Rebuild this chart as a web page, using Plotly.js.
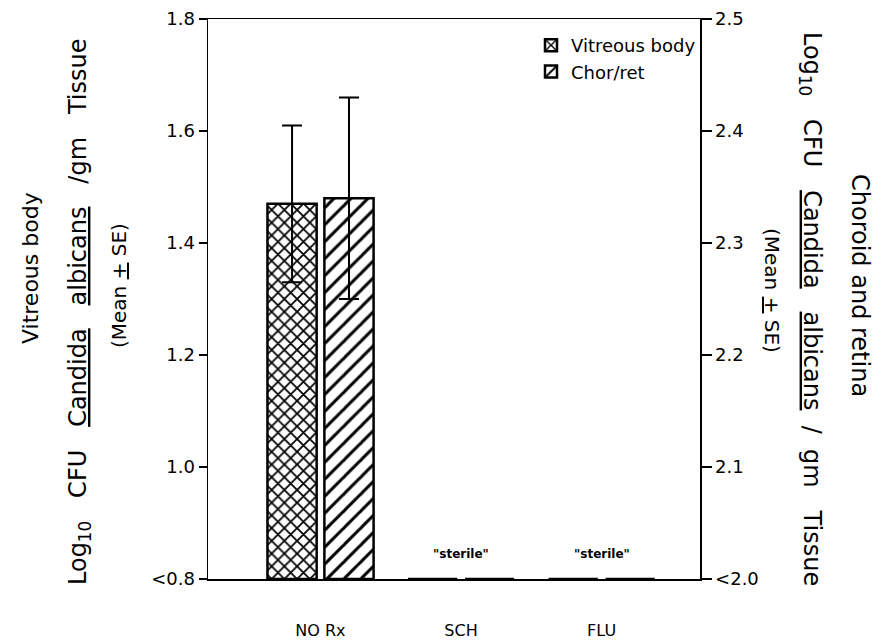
<!DOCTYPE html>
<html>
<head>
<meta charset="utf-8">
<script src="https://cdn.plot.ly/plotly-3.0.1.min.js"></script>
<style>html,body{margin:0;padding:0;background:#fff;}#chart{width:893px;height:641px;}</style>
</head>
<body>
<div id="chart"></div>
<script>
// ---- data ----
var categories = ["NO Rx", "SCH", "FLU"];
var vitreousMean = [1.47, 0.8, 0.8];      // left axis, Log10 CFU/gm (0.8 = "<0.8", sterile)
var vitreousSE = [0.14, null, null];
var chorretMean = [2.34, 2.0, 2.0];       // right axis, Log10 CFU/gm (2.0 = "<2.0", sterile)
var chorretSE = [0.09, null, null];
var sterileLabels = ["", "\"sterile\"", "\"sterile\""];
var leftTickVals = [0.8, 1.0, 1.2, 1.4, 1.6, 1.8];
var leftTickText = ["<0.8", "1.0", "1.2", "1.4", "1.6", "1.8"];
var rightTickVals = [2.0, 2.1, 2.2, 2.3, 2.4, 2.5];
var rightTickText = ["<2.0", "2.1", "2.2", "2.3", "2.4", "2.5"];

var leftFloor = leftTickVals[0];
var rightFloor = rightTickVals[0];
var xIdx = categories.map(function (c, i) { return i; });

var FONT = "DejaVu Sans, Liberation Sans, Arial, sans-serif";

var traces = [
  {
    type: "bar", name: "Vitreous body",
    x: xIdx, y: vitreousMean.map(function (v) { return v - leftFloor; }), base: leftFloor,
    width: 0.35, offset: -0.377,
    marker: { color: "white", line: { color: "black", width: 2.5 },
      pattern: { shape: "x", fgcolor: "black", bgcolor: "white", size: 9, solidity: 0.35 } },
    error_y: { type: "data", array: vitreousSE, visible: true, color: "black", thickness: 2, width: 10 },
    yaxis: "y", hoverinfo: "skip"
  },
  {
    type: "bar", name: "Chor/ret",
    x: xIdx, y: chorretMean.map(function (v) { return v - rightFloor; }), base: rightFloor,
    width: 0.35, offset: 0.028,
    marker: { color: "white", line: { color: "black", width: 2.5 },
      pattern: { shape: "/", fgcolor: "black", bgcolor: "white", size: 12, solidity: 0.25 } },
    error_y: { type: "data", array: chorretSE, visible: true, color: "black", thickness: 2, width: 10 },
    yaxis: "y2", hoverinfo: "skip"
  }
];

var annotations = [];
sterileLabels.forEach(function (t, i) {
  if (!t) return;
  annotations.push({ x: xIdx[i], y: leftFloor, xref: "x", yref: "y", text: "<b>" + t + "</b>",
    showarrow: false, yanchor: "bottom", yshift: 16, font: { family: FONT, size: 12, color: "black" } });
});

var U = function (s) { return '<span style="text-decoration:underline">' + s + '</span>'; };
var SP = "\u00a0\u00a0\u00a0";
var titleMain = "Log<sub>10</sub>" + SP + "CFU" + SP + U("Candida") + SP + U("albicans") + SP + "/gm" + SP + "Tissue";
var titleMainR = "Log<sub>10</sub>" + SP + "CFU" + SP + U("Candida") + SP + U("albicans") + "\u00a0\u00a0/\u00a0\u00a0gm" + SP + "Tissue";
var meanSE = "(Mean " + U("+") + " SE)";
var tfBig = { family: FONT, size: 24, color: "black" };
var tf = { family: FONT, size: 22, color: "black" };
var tfSm = { family: FONT, size: 20, color: "black" };

function frX(px) { return (px - 208) / 492; }
function frY(py) { return (579 - py) / 560; }

// left titles
annotations.push({ xref: "paper", yref: "paper", x: frX(30), y: frY(268), text: "Vitreous body", textangle: -90,
  showarrow: false, font: tf, xanchor: "center", yanchor: "middle" });
annotations.push({ xref: "paper", yref: "paper", x: frX(80), y: frY(312), text: titleMain, textangle: -90,
  showarrow: false, font: tfBig, xanchor: "center", yanchor: "middle" });
annotations.push({ xref: "paper", yref: "paper", x: frX(119), y: frY(286), text: meanSE, textangle: -90,
  showarrow: false, font: tfSm, xanchor: "center", yanchor: "middle" });
// right titles
annotations.push({ xref: "paper", yref: "paper", x: frX(860), y: frY(285), text: "Choroid and retina", textangle: 90,
  showarrow: false, font: tfBig, xanchor: "center", yanchor: "middle" });
annotations.push({ xref: "paper", yref: "paper", x: frX(810), y: frY(309), text: titleMainR, textangle: 90,
  showarrow: false, font: tfBig, xanchor: "center", yanchor: "middle" });
annotations.push({ xref: "paper", yref: "paper", x: frX(772), y: frY(290), text: meanSE, textangle: 90,
  showarrow: false, font: tfSm, xanchor: "center", yanchor: "middle" });

var layout = {
  width: 893, height: 641,
  margin: { l: 208, r: 193, t: 19, b: 62 },
  paper_bgcolor: "white", plot_bgcolor: "white",
  barmode: "overlay",
  showlegend: true,
  legend: { x: frX(531), y: frY(27), xanchor: "left", yanchor: "top", bgcolor: "rgba(0,0,0,0)",
    font: { family: FONT, size: 18, color: "black" }, itemwidth: 30, tracegroupgap: 0 },
  xaxis: {
    range: [-0.8, 2.7], tickvals: xIdx, ticktext: categories, ticks: "", showgrid: false, zeroline: false,
    showline: true, linecolor: "black", linewidth: 1.5, mirror: true,
    ticklabelstandoff: 36, tickfont: { family: FONT, size: 16, color: "black" }, fixedrange: true
  },
  yaxis: {
    range: [0.8, 1.8], tickvals: leftTickVals, ticktext: leftTickText, ticks: "outside", ticklen: 8,
    tickwidth: 1.5, tickcolor: "black", showgrid: false, zeroline: false, showline: true,
    linecolor: "black", linewidth: 1.5, tickfont: { family: FONT, size: 18, color: "black" }, fixedrange: true
  },
  yaxis2: {
    range: [2.0, 2.5], tickvals: rightTickVals, ticktext: rightTickText, overlaying: "y", side: "right",
    ticks: "outside", ticklen: 10, tickwidth: 1.5, tickcolor: "black", showgrid: false, zeroline: false,
    showline: true, linecolor: "black", linewidth: 1.5, ticklabelstandoff: 0,
    tickfont: { family: FONT, size: 18, color: "black" }, fixedrange: true
  },
  annotations: annotations
};

Plotly.newPlot("chart", traces, layout, { staticPlot: true, displayModeBar: false });
</script>
</body>
</html>
